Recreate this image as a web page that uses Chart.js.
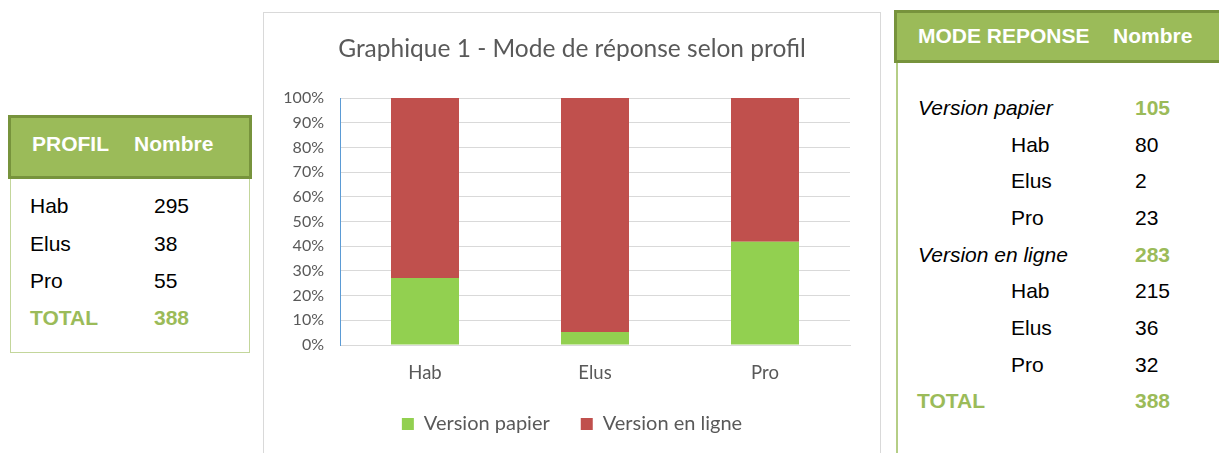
<!DOCTYPE html>
<html>
<head>
<meta charset="utf-8">
<script src="https://cdn.jsdelivr.net/npm/chart.js@4"></script>
<style>
  body { margin:0; width:1219px; height:453px; overflow:hidden; background:#fff; position:relative;
         font-family:"Liberation Sans", Arial, sans-serif; }
  .txt { position:absolute; white-space:nowrap; font-size:21px; line-height:21px; color:#000; }
  .head { position:absolute; box-sizing:border-box; background:#9BBB59; border:3px solid #77933C; }
  .white { color:#fff; font-weight:bold; }
  .green { color:#9BBB59; font-weight:bold; }
  #chartBox { position:absolute; left:263px; top:12px; width:616px; height:460px; border:1px solid #D9D9D9; }
</style>
</head>
<body>

<div class="head" style="left:8px;top:115px;width:244px;height:64px;"></div>
<div style="position:absolute;left:10px;top:179px;width:240px;height:174px;box-sizing:border-box;border:1px solid #C3D69B;border-top:none;"></div>

<div class="head" style="left:894px;top:10px;width:340px;height:53px;"></div>
<div style="position:absolute;left:896px;top:63px;width:0;height:400px;border-left:2px solid #B5CE86;"></div>

<div id="chartBox"><canvas id="graph_canvas" width="616" height="440"></canvas></div>

<div id="tables"></div>

<script>
// tableau PROFIL
const profils = ['Hab', 'Elus', 'Pro'];
const profilCounts = [295, 38, 55];
const profilTotal = 388;

// tableau MODE REPONSE
const modes = ['Version papier', 'Version en ligne'];
const modeTotals = [105, 283];
const papierCounts = [80, 2, 23];
const enLigneCounts = [215, 36, 32];
const modeTotal = 388;

// graphique (%)
const papierPct = [27.1, 5.3, 41.8];
const enLignePct = [72.9, 94.7, 58.2];

const holder = document.getElementById('tables');
function put(text, x, baseline, cls, style) {
  const d = document.createElement('div');
  d.className = 'txt' + (cls ? ' ' + cls : '');
  d.style.left = x + 'px';
  d.style.top = (baseline - 18) + 'px';
  if (style) d.style.cssText += style;
  d.textContent = text;
  holder.appendChild(d);
}

// gauche
put('PROFIL', 32, 151, 'white');
put('Nombre', 134, 151, 'white');
profils.forEach((p, i) => {
  put(p, 30, 213.3 + i * 37.3);
  put(String(profilCounts[i]), 154, 213.3 + i * 37.3);
});
put('TOTAL', 30, 213.3 + 3 * 37.3, 'green');
put(String(profilTotal), 154, 213.3 + 3 * 37.3, 'green');

// droite
put('MODE REPONSE', 918, 43, 'white');
put('Nombre', 1113, 43, 'white');
let row = 0;
const step = 36.67;
[papierCounts, enLigneCounts].forEach((counts, m) => {
  put(modes[m], 918, 115 + row * step, '', 'font-style:italic;');
  put(String(modeTotals[m]), 1135, 115 + row * step, 'green');
  row++;
  profils.forEach((p, i) => {
    put(p, 1011, 115 + row * step);
    put(String(counts[i]), 1135, 115 + row * step);
    row++;
  });
});
put('TOTAL', 917, 115 + row * step, 'green');
put(String(modeTotal), 1135, 115 + row * step, 'green');

// chart
const ctx = document.getElementById('graph_canvas');
const font = 'Lato';
new Chart(ctx, {
  type: 'bar',
  data: {
    labels: profils,
    datasets: [
      { label: modes[0], data: papierPct, backgroundColor: '#92D050', barPercentage: 0.4, categoryPercentage: 1 },
      { label: modes[1], data: enLignePct, backgroundColor: '#C0504D', barPercentage: 0.4, categoryPercentage: 1 }
    ]
  },
  options: {
    responsive: false,
    animation: false,
    layout: { padding: { left: 18, right: 18, top: 0, bottom: 9 } },
    plugins: {
      title: {
        display: true,
        text: 'Graphique 1 - Mode de réponse selon profil',
        color: '#595959',
        font: { family: font, size: 24.5, weight: 'normal' },
        padding: { top: 21, bottom: 34.6 }
      },
      legend: {
        position: 'bottom',
        labels: { boxWidth: 12, boxHeight: 12, color: '#595959', font: { family: font, size: 20 }, padding: 31 }
      },
      tooltip: { enabled: false }
    },
    scales: {
      x: {
        stacked: true,
        grid: { display: false, drawTicks: false },
        border: { color: '#D9D9D9' },
        ticks: { color: '#595959', font: { family: font, size: 18.5 }, padding: 17 },
        afterFit: function(scale) { scale.height = 38; }
      },
      y: {
        stacked: true,
        min: 0,
        max: 100,
        ticks: {
          stepSize: 10,
          color: '#595959',
          font: { family: font, size: 16 },
          padding: 16,
          callback: function(value) { return value + '%'; }
        },
        grid: { color: '#D9D9D9', drawTicks: false },
        border: { color: '#5B9BD5' },
        afterFit: function(scale) { scale.width = 58; }
      },
      // marge droite vide (garde titre et légende centrés sur le cadre)
      yRight: {
        position: 'right',
        grid: { display: false, drawTicks: false },
        border: { display: false },
        ticks: { display: false },
        afterFit: function(scale) { scale.width = 12; }
      }
    }
  }
});
</script>
</body>
</html>
